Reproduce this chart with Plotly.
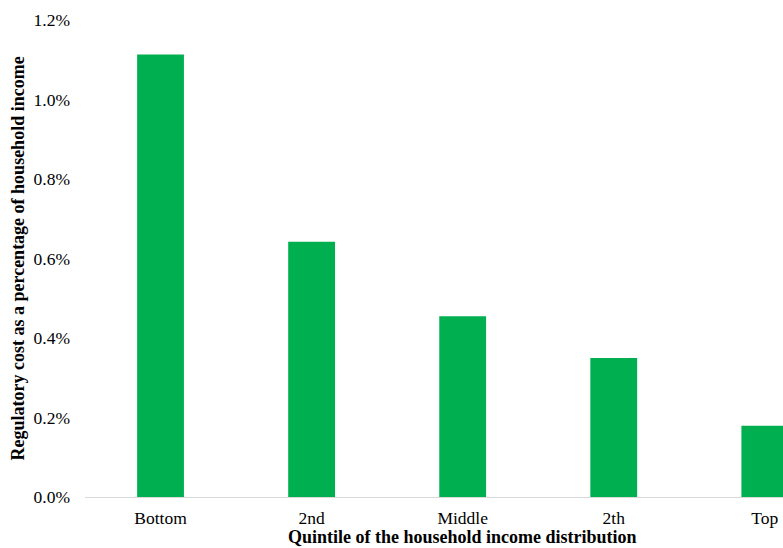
import plotly.graph_objects as go

categories = ["Bottom", "2nd", "Middle", "2th", "Top"]
values = [1.113, 0.642, 0.455, 0.350, 0.179]
y_ticks = [0.0, 0.2, 0.4, 0.6, 0.8, 1.0, 1.2]

W, H = 783, 548
L, R, T, B = 85, 0, 20, 51
pw = W - L - R
cat_px = 151.07
xmax = -0.5 + pw / cat_px

fig = go.Figure()
fig.add_trace(go.Bar(
    x=list(range(len(categories))), y=values,
    marker=dict(color="#00B050", line=dict(width=0)),
    width=0.31, cliponaxis=True,
))

font_fam = "Liberation Serif, Times New Roman, serif"
fig.update_layout(
    width=W, height=H,
    margin=dict(l=L, r=R, t=T, b=B, autoexpand=False),
    paper_bgcolor="white", plot_bgcolor="white",
    showlegend=False,
    font=dict(family=font_fam, size=17.5, color="#000000"),
    xaxis=dict(
        range=[-0.5, xmax], tickmode="array",
        tickvals=list(range(len(categories))), ticktext=categories,
        showgrid=False, zeroline=False, showline=True, linecolor="#d9d9d9",
        linewidth=1, ticks="", ticklabelstandoff=5,
        tickfont=dict(family=font_fam, size=17.5),
    ),
    yaxis=dict(
        range=[0, 1.2], tickmode="array", tickvals=y_ticks,
        ticktext=[f"{v:.1f}%" for v in y_ticks],
        showgrid=False, zeroline=False, showline=False, ticks="",
        ticklabelstandoff=14,
        tickfont=dict(family=font_fam, size=17.5),
    ),
    annotations=[
        dict(text="<b>Quintile of the household income distribution</b>",
             xref="paper", yref="paper",
             x=(462 - L) / pw, y=-(537 - (H - B)) / (H - T - B),
             xanchor="center", yanchor="middle", showarrow=False,
             font=dict(family=font_fam, size=18)),
        dict(text="<b>Regulatory cost as a percentage of household income</b>",
             xref="paper", yref="paper", textangle=-90,
             x=(17 - L) / pw, y=0.5,
             xanchor="center", yanchor="middle", showarrow=False,
             font=dict(family=font_fam, size=18)),
    ],
)

fig.write_html("out.html")
